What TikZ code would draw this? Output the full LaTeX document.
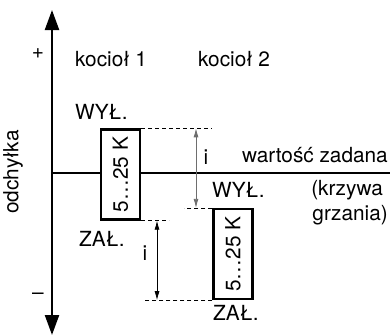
\documentclass[tikz,border=0pt]{standalone}
\usepackage{fontspec}
\setmainfont{TeX Gyre Heros}
\usepackage{tikz}
\usetikzlibrary{arrows.meta,positioning,calc}
\definecolor{spangray}{RGB}{110,110,110}

\begin{document}
\begin{tikzpicture}[x=1pt,y=-1pt,
  every node/.style={font=\fontsize{20.8}{24}\selectfont,inner sep=0pt},
  hyst/.style={draw,line width=2.3pt,fill=white,rotate=90,minimum width=90pt,minimum height=39pt},
  dim/.style={dashed,line width=0.6pt,dash pattern=on 4pt off 3pt},
  span/.style={{Latex[length=9pt,width=5pt]}-{Latex[length=9pt,width=5pt]},line width=0.8pt}]
\useasboundingbox (0,0) rectangle (390,335);
\coordinate (top) at (52,10);
\coordinate (bot) at (52,335);
\coordinate (zad) at (390,173);
\draw[line width=2.3pt,{Triangle[length=20pt,width=14pt]}-{Triangle[length=20pt,width=14pt]}] (bot) -- (top);
\draw[line width=2.3pt] (top |- zad) -- (zad);
\node[hyst] (box1) at (120.5,174.5) {5…25 K};
\node[hyst] (box2) at (233,254) {5…25 K};
\draw[dim] (box1.south east) -- ++(71,0) coordinate (d1);
\draw[dim] (box1.south west) -- ++(28,0) coordinate (d2);
\draw[dim] (box2.north east) -- ++(-28,0) coordinate (d3);
\draw[dim] (box2.north west) -- ++(-68,0) coordinate (d4);
\coordinate (a1) at (196,0);
\coordinate (a2) at (157,0);
\draw[span,spangray] (box1.south east -| a1) -- (box2.north east -| a1);
\draw[span] (box1.south west -| a2) -- (box2.north west -| a2);
\node (i1) at (206,157) {i};
\node (i2) at (145,253) {i};
\node (plus) at (38,54) {+};
\node (minus) at (38,296) {–};
\node[rotate=90] (odch) at (13,172) {odchyłka};
\node[anchor=base west] (k1) at (75,66) {kocioł 1};
\node[anchor=base west] (k2) at (198,66) {kocioł 2};
\node[anchor=base west] (wyl1) at (75,119) {WYŁ.};
\node[anchor=base west] (zal1) at (79,246) {ZAŁ.};
\node[anchor=base west] (wyl2) at (212,197) {WYŁ.};
\node[anchor=base west] (zal2) at (213,320) {ZAŁ.};
\node[anchor=base east] (wz) at (388,162) {wartość zadana};
\node[anchor=base east] (krz) at (383,195) {(krzywa};
\node[anchor=base east] (grz) at (388,220) {grzania)};
\end{tikzpicture}
\end{document}
